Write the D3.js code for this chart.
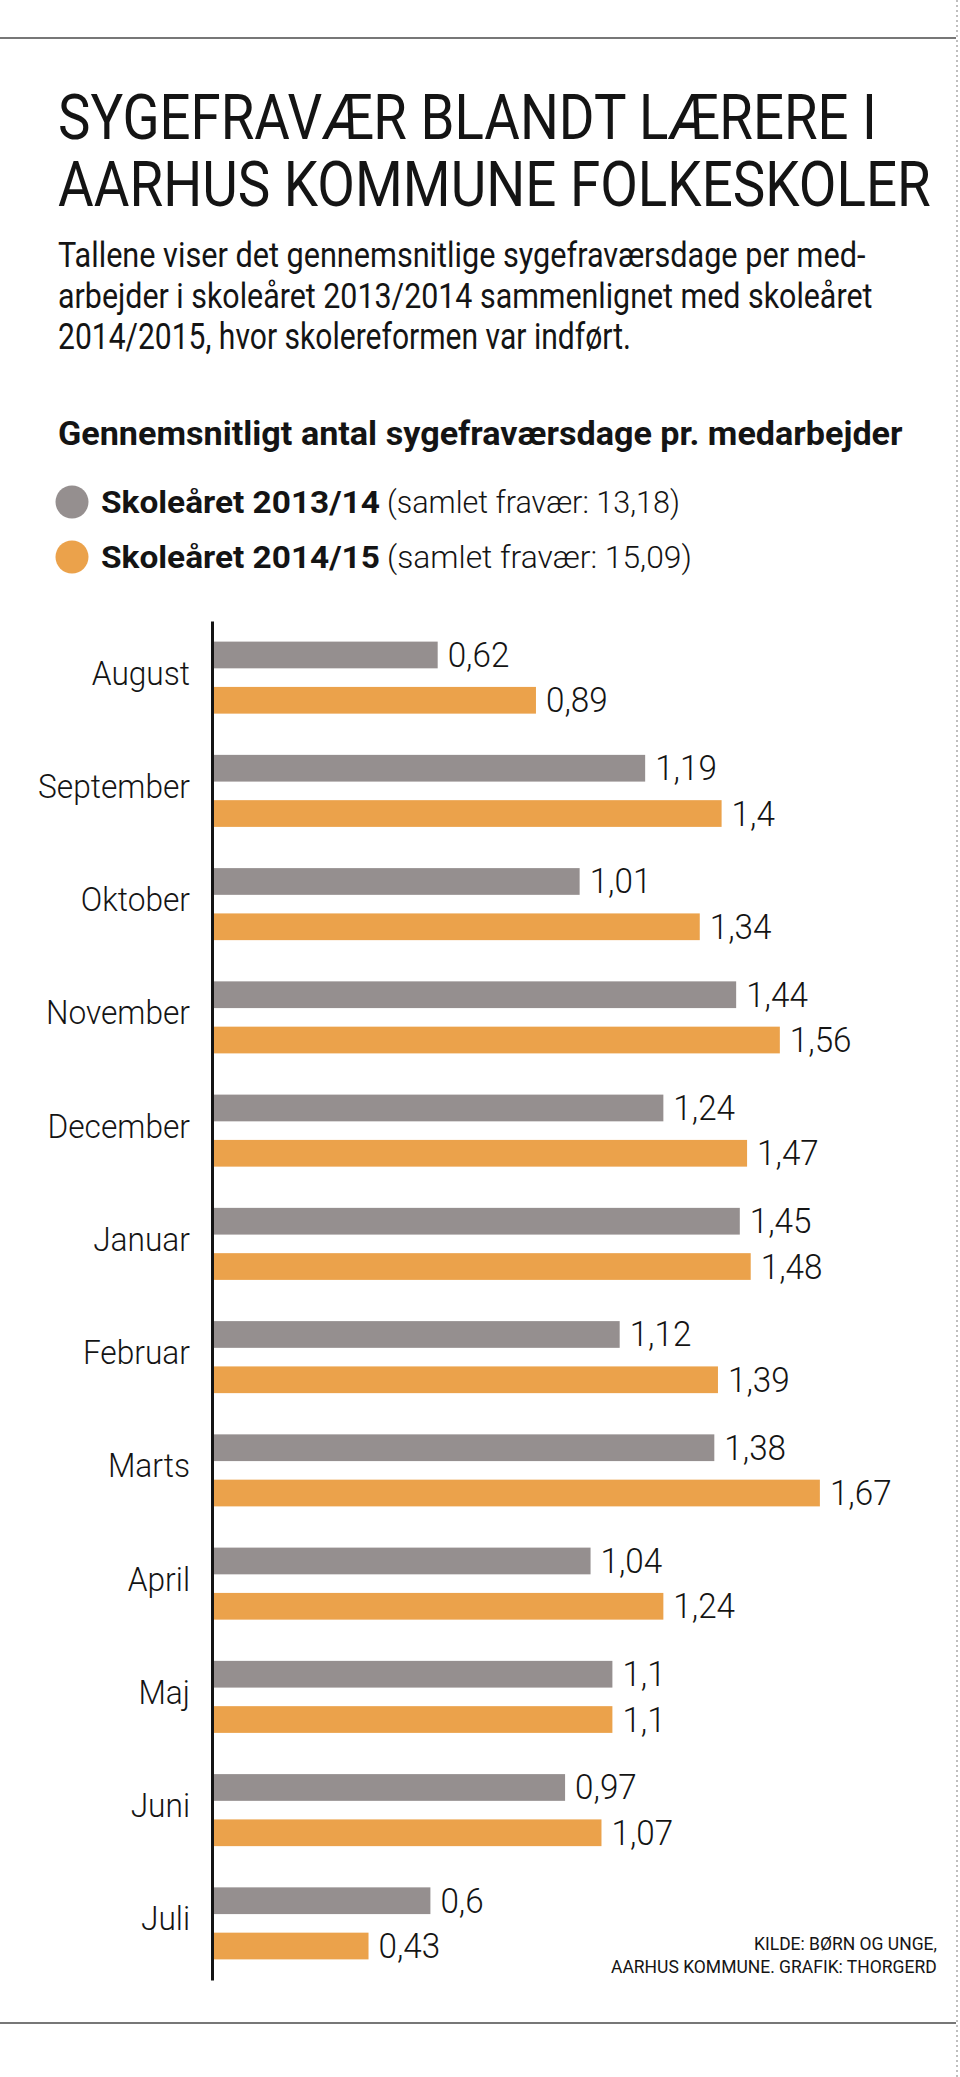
<!DOCTYPE html>
<html>
<head>
<meta charset="utf-8">
<script src="https://cdn.jsdelivr.net/npm/d3@7"></script>
<style>
  html, body { margin: 0; padding: 0; background: #fff; }
  svg { display: block; }
</style>
</head>
<body>
<div id="chart"></div>
<script>
// Sygefravær blandt lærere, Aarhus Kommune
const months = ['August', 'September', 'Oktober', 'November', 'December', 'Januar',
  'Februar', 'Marts', 'April', 'Maj', 'Juni', 'Juli'];
const values1314 = [0.62, 1.19, 1.01, 1.44, 1.24, 1.45, 1.12, 1.38, 1.04, 1.1, 0.97, 0.6];
const values1415 = [0.89, 1.4, 1.34, 1.56, 1.47, 1.48, 1.39, 1.67, 1.24, 1.1, 1.07, 0.43];
const seriesNames = ['Skoleåret 2013/14', 'Skoleåret 2014/15'];
const seriesNotes = ['(samlet fravær: 13,18)', '(samlet fravær: 15,09)'];
const titleLines = ['SYGEFRAVÆR BLANDT LÆRERE I', 'AARHUS KOMMUNE FOLKESKOLER'];
const introLines = [
  'Tallene viser det gennemsnitlige sygefraværsdage per med-',
  'arbejder i skoleåret 2013/2014 sammenlignet med skoleåret',
  '2014/2015, hvor skolereformen var indført.'
];
const subTitle = 'Gennemsnitligt antal sygefraværsdage pr. medarbejder';
const sourceLines = ['KILDE: BØRN OG UNGE,', 'AARHUS KOMMUNE. GRAFIK: THORGERD'];

const W = 960, H = 2077;
const FONT = 'Roboto, "Open Sans", "DejaVu Sans", sans-serif';
const INK = '#141414';
const colors = ['#958f8f', '#eba24b'];

const svg = d3.select('#chart').append('svg')
  .attr('width', W).attr('height', H)
  .attr('viewBox', `0 0 ${W} ${H}`);

svg.append('rect').attr('width', W).attr('height', H).attr('fill', '#fff');

// squeeze a text horizontally so it takes the measured width of the condensed newspaper font
function fitText(sel, x, y, w) {
  const natural = sel.node().getComputedTextLength();
  sel.attr('transform', `translate(${x},${y}) scale(${w / natural},1)`);
  return sel;
}

function addText(size, weight, str) {
  return svg.append('text')
    .attr('fill', INK)
    .attr('font-family', FONT)
    .attr('font-size', size)
    .attr('font-weight', weight)
    .text(str);
}

// page rules
svg.append('line').attr('x1', 0).attr('x2', 956).attr('y1', 38).attr('y2', 38)
  .attr('stroke', '#777').attr('stroke-width', 2);
svg.append('line').attr('x1', 0).attr('x2', 956).attr('y1', 2023).attr('y2', 2023)
  .attr('stroke', '#777').attr('stroke-width', 2);
svg.append('line').attr('x1', 957).attr('x2', 957).attr('y1', 0).attr('y2', H)
  .attr('stroke', '#aaa').attr('stroke-width', 1.5).attr('stroke-dasharray', '2,3');

// title
const titleW = [819, 873];
titleLines.forEach((t, i) => fitText(addText(63, 400, t), 58, 139 + i * 67, titleW[i]));

// intro
const introW = [808, 815, 573];
introLines.forEach((t, i) => fitText(addText(36, 400, t), 58, 267 + i * 41, introW[i]));

fitText(addText(34, 700, subTitle), 58, 445, 845);

// legend
const nameW = [279, 279];
const noteW = [293, 305];
seriesNames.forEach((name, i) => {
  const cy = 502 + i * 55;
  svg.append('circle').attr('cx', 72).attr('cy', cy).attr('r', 16.5).attr('fill', colors[i]);
  fitText(addText(31, 700, name), 101, cy + 11, nameW[i]);
  fitText(addText(31, 300, seriesNotes[i]), 387, cy + 11, noteW[i]);
});

// chart
const x = d3.scaleLinear().domain([0, 2]).range([212, 940]);
const y = d3.scaleBand().domain(months).range([621, 1980])
  .paddingInner(0.364).paddingOuter(0.182);
const ySub = d3.scaleBand().domain([0, 1]).range([0, y.bandwidth()]).paddingInner(0.41);

const rows = months.map((m, i) => ({ month: m, vals: [values1314[i], values1415[i]] }));

const groups = svg.append('g').selectAll('g')
  .data(rows).join('g')
  .attr('transform', d => `translate(0,${y(d.month)})`);

groups.selectAll('rect')
  .data(d => d.vals.map((v, s) => ({ v, s })))
  .join('rect')
  .attr('x', x(0))
  .attr('y', d => ySub(d.s))
  .attr('width', d => x(d.v) - x(0))
  .attr('height', ySub.bandwidth())
  .attr('fill', d => colors[d.s]);

const fmt = v => String(v).replace('.', ',');

// measure samples to get the horizontal squeeze for chart labels
const probe = addText(35, 300, '0,89');
const kVal = 61.7 / probe.node().getComputedTextLength();
probe.text('September').attr('font-size', 34);
const kMonth = 152 / probe.node().getComputedTextLength();
probe.remove();

groups.selectAll('text.val')
  .data(d => d.vals.map((v, s) => ({ v, s })))
  .join('text')
  .attr('class', 'val')
  .attr('transform', d => `translate(${x(d.v) + 10},${ySub(d.s) + ySub.bandwidth() / 2 + 12}) scale(${kVal},1)`)
  .attr('fill', INK)
  .attr('font-family', FONT)
  .attr('font-size', 35)
  .attr('font-weight', 300)
  .text(d => fmt(d.v));

groups.append('text')
  .attr('transform', `translate(190,${y.bandwidth() / 2 + 7}) scale(${kMonth},1)`)
  .attr('text-anchor', 'end')
  .attr('fill', INK)
  .attr('font-family', FONT)
  .attr('font-size', 34)
  .attr('font-weight', 300)
  .text(d => d.month);

// axis line
const yAxis = svg.append('g')
  .attr('transform', `translate(${x(0)},0)`)
  .call(d3.axisLeft(y).tickSize(0).tickFormat(''));
yAxis.select('.domain').attr('stroke', INK).attr('stroke-width', 3);

// source
const srcW = [183, 326];
sourceLines.forEach((t, i) => fitText(addText(19, 400, t), 937 - srcW[i], 1950 + i * 23, srcW[i]));
</script>
</body>
</html>
